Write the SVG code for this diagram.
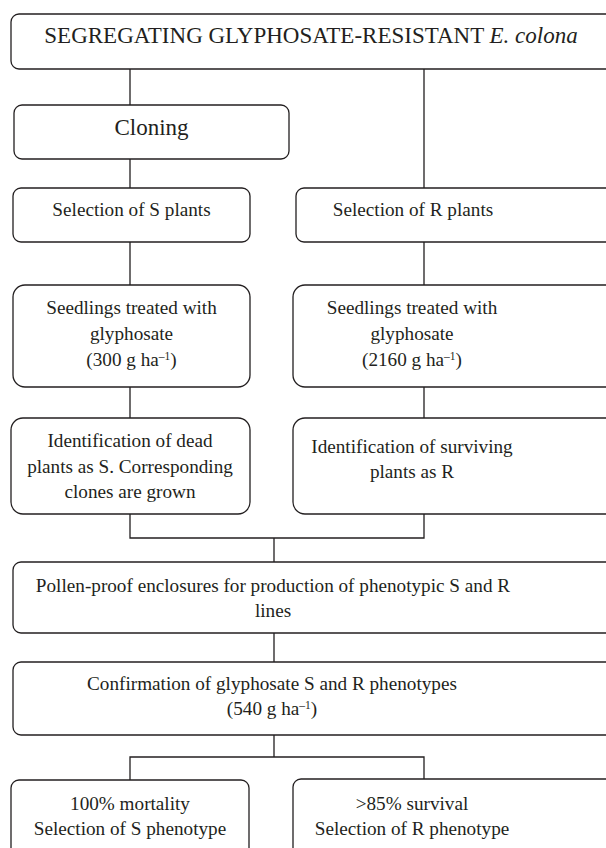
<svg xmlns="http://www.w3.org/2000/svg" width="606" height="848" viewBox="0 0 606 848">
<style>
.box{fill:#fff;stroke:#231f20;stroke-width:1.3}
.t{font-family:"Liberation Serif","Times New Roman",serif;font-size:19.2px;fill:#231f20;text-anchor:middle}
.big{font-size:23px}
.sup{font-size:11.5px}
.c{fill:none;stroke:#231f20;stroke-width:1.3}
</style>
<rect width="606" height="848" fill="#fff"/>
<g id="connectors">
<path class="c" d="M130 69V105M424 69V188M130 159V188M130 242V285M424 242V285M130 387V418M424 387V418M130 514V538H424V514M274 538V562M274 633V662M274 735V757M130 780V757H424V780"/>
</g>
<g id="n_top"><rect class="box" x="11" y="14" width="620" height="55" rx="8"/>
<text class="t big" x="311" y="42.5">SEGREGATING GLYPHOSATE-RESISTANT <tspan font-style="italic">E. colona</tspan></text></g>
<g id="n_cloning"><rect class="box" x="14" y="105" width="275" height="54" rx="8"/>
<text class="t big" x="151.5" y="135">Cloning</text></g>
<g id="n_selS"><rect class="box" x="13" y="188" width="237" height="54" rx="8"/>
<text class="t" x="131.5" y="216">Selection of S plants</text></g>
<g id="n_selR"><rect class="box" x="296" y="188" width="330" height="54" rx="8"/>
<text class="t" x="413" y="216">Selection of R plants</text></g>
<g id="n_seedS"><rect class="box" x="13" y="285" width="237" height="102" rx="12"/>
<text class="t" x="131.5" y="314">Seedlings treated with</text>
<text class="t" x="131.5" y="340">glyphosate</text>
<text class="t" x="131.5" y="366">(300 g ha<tspan class="sup" dy="-6">–1</tspan><tspan dy="6">)</tspan></text></g>
<g id="n_seedR"><rect class="box" x="293" y="285" width="330" height="102" rx="12"/>
<text class="t" x="412" y="314">Seedlings treated with</text>
<text class="t" x="412" y="340">glyphosate</text>
<text class="t" x="412" y="366">(2160 g ha<tspan class="sup" dy="-6">–1</tspan><tspan dy="6">)</tspan></text></g>
<g id="n_idS"><rect class="box" x="11" y="418" width="239" height="96" rx="12"/>
<text class="t" x="130" y="447">Identification of dead</text>
<text class="t" x="130" y="473">plants as S. Corresponding</text>
<text class="t" x="130" y="498">clones are grown</text></g>
<g id="n_idR"><rect class="box" x="293" y="418" width="330" height="96" rx="12"/>
<text class="t" x="412" y="453">Identification of surviving</text>
<text class="t" x="412" y="478">plants as R</text></g>
<g id="n_pollen"><rect class="box" x="13" y="562" width="620" height="71" rx="8"/>
<text class="t" x="273" y="592">Pollen-proof enclosures for production of phenotypic S and R</text>
<text class="t" x="273" y="617">lines</text></g>
<g id="n_confirm"><rect class="box" x="13" y="662" width="620" height="73" rx="8"/>
<text class="t" x="272" y="690">Confirmation of glyphosate S and R phenotypes</text>
<text class="t" x="272" y="715">(540 g ha<tspan class="sup" dy="-6">–1</tspan><tspan dy="6">)</tspan></text></g>
<g id="n_mort"><rect class="box" x="11" y="780" width="238" height="90" rx="8"/>
<text class="t" x="130" y="810">100% mortality</text>
<text class="t" x="130" y="835">Selection of S phenotype</text></g>
<g id="n_surv"><rect class="box" x="293" y="779" width="330" height="90" rx="8"/>
<text class="t" x="412" y="810">&gt;85% survival</text>
<text class="t" x="412" y="835">Selection of R phenotype</text></g>
</svg>
